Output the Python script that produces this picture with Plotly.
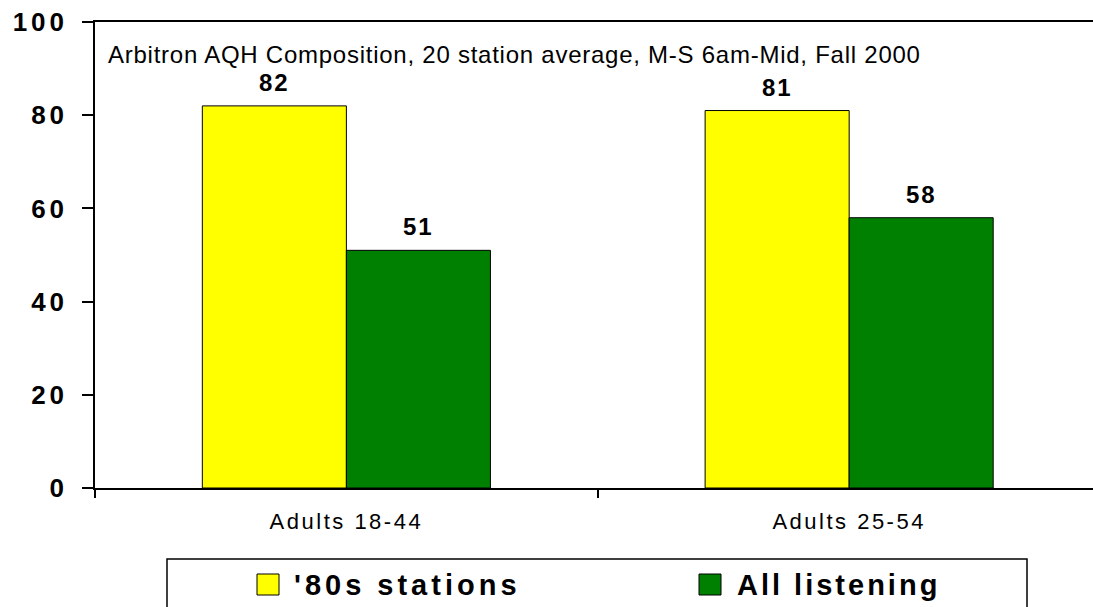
import plotly.graph_objects as go

# Audience composition, Fall 2000
categories = ["Adults 18-44", "Adults 25-54"]
series_names = ["'80s stations", "All listening"]
eighties_values = [82, 81]
all_listening_values = [51, 58]
y_ticks = [0, 20, 40, 60, 80, 100]
subtitle = "Arbitron AQH Composition, 20 station average, M-S 6am-Mid, Fall 2000"

colors = ["#FFFF00", "#008000"]
FONT = "Liberation Sans, Arial, sans-serif"


def spaced(text, px):
    return f'<span style="letter-spacing:{px}px">{text}</span>'


W, H = 1093, 607
L, T, B = 95, 22, 119
plot_w = W - L
plot_h = H - T - B


def px_x(p):
    return (p - L) / plot_w


def px_y(p):
    return (H - B - p) / plot_h


fig = go.Figure()
for name, vals, col in zip(series_names, [eighties_values, all_listening_values], colors):
    fig.add_trace(go.Bar(
        x=categories, y=vals, name=name,
        marker=dict(color=col, line=dict(color="black", width=1)),
        showlegend=False,
    ))

# value labels above each bar
offsets = [-72, 72]
for vals, dx in zip([eighties_values, all_listening_values], offsets):
    for cat, v in zip(categories, vals):
        fig.add_annotation(
            x=cat, y=v, xref="x", yref="y", xshift=dx, yshift=8,
            text=spaced(str(v), 2), showarrow=False, yanchor="bottom",
            font=dict(family=FONT, size=24, color="black", weight="bold"),
        )

# subtitle inside the plot area
fig.add_annotation(
    x=px_x(106), y=px_y(55), xref="paper", yref="paper",
    xanchor="left", yanchor="middle", showarrow=False,
    text=spaced(subtitle, 0.75), font=dict(family=FONT, size=24, color="black"),
)

# legend frame and entries
fig.add_shape(type="rect", xref="paper", yref="paper",
              x0=px_x(167), x1=px_x(1027), y0=px_y(559), y1=px_y(640),
              line=dict(color="black", width=1.5), fillcolor="white", layer="above")
legend_items = [(257, 292), (699, 735)]
for (sx, tx), name, col, sp in zip(legend_items, series_names, colors, [4, 3]):
    fig.add_shape(type="rect", xref="paper", yref="paper",
                  x0=px_x(sx), x1=px_x(sx + 22), y0=px_y(595), y1=px_y(574),
                  line=dict(color="black", width=1), fillcolor=col, layer="above")
    fig.add_annotation(
        x=px_x(tx), y=px_y(585), xref="paper", yref="paper",
        xanchor="left", yanchor="middle", showarrow=False,
        text=spaced(name, sp),
        font=dict(family=FONT, size=29, color="black", weight="bold"),
    )

fig.update_layout(
    width=W, height=H,
    margin=dict(l=L, r=0, t=T, b=B, pad=0),
    paper_bgcolor="white", plot_bgcolor="white",
    barmode="group", bargap=0.427, bargroupgap=0,
    showlegend=False,
)
fig.update_xaxes(
    type="category", range=[-0.5, 1.485],
    tickson="boundaries", ticks="outside", ticklen=8, tickwidth=1.5, tickcolor="black",
    showline=True, linecolor="black", linewidth=1.5, mirror=True,
    showgrid=False, zeroline=False,
    tickvals=categories, ticktext=[spaced(c, 2.5) for c in categories],
    tickfont=dict(family=FONT, size=22, color="black"),
    ticklabelstandoff=13,
)
fig.update_yaxes(
    range=[0, 100], tickvals=y_ticks, ticktext=[spaced(str(t), 4) for t in y_ticks],
    ticks="outside", ticklen=11, tickwidth=1.5, tickcolor="black",
    showline=True, linecolor="black", linewidth=1.5,
    showgrid=False, zeroline=False,
    tickfont=dict(family=FONT, size=26, color="black", weight="bold"),
    ticklabelstandoff=9,
)

fig.write_html("out.html")
